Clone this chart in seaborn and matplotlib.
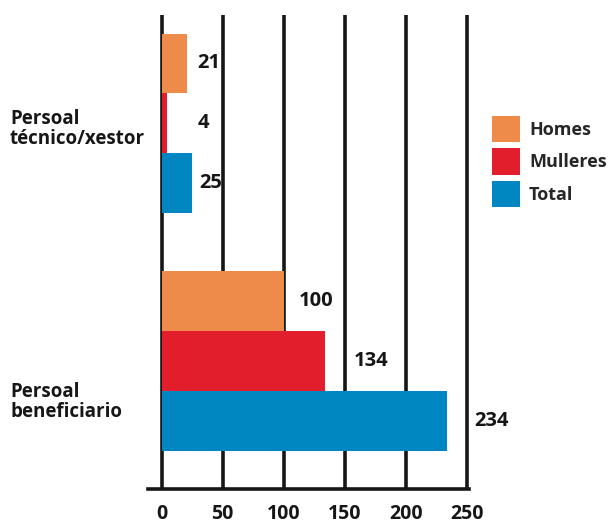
import matplotlib
matplotlib.use("Agg")
import matplotlib.pyplot as plt
import seaborn as sns
import pandas as pd

categories = ["Persoal\ntécnico/xestor", "Persoal\nbeneficiario"]
series = ["Homes", "Mulleres", "Total"]
homes = [21, 100]
mulleres = [4, 134]
total = [25, 234]
x_ticks = [0, 50, 100, 150, 200, 250]

colors = ["#EE8A4A", "#E31E2C", "#0087C1"]
ink = "#161616"

# offsets of the value labels (pixels right of each bar end), as in the original
label_pad = {"Homes": [10, 15], "Mulleres": [31, 29], "Total": [7, 27]}
# how far below the group centre each category label sits (pixels)
cat_drop = [6, 41]

rows = []
for s, vals in zip(series, [homes, mulleres, total]):
    for c, v in zip(categories, vals):
        rows.append({"cat": c, "serie": s, "valor": v})
df = pd.DataFrame(rows)

sns.set_style("white")
plt.rcParams["font.family"] = ["Open Sans", "DejaVu Sans"]
plt.rcParams["font.weight"] = "bold"

fig = plt.figure(figsize=(6.08, 5.25), dpi=100)
ax = fig.add_axes([147.7 / 608, 1 - 489 / 525, (468.5 - 147.7) / 608, (489 - 15) / 525])

sns.barplot(data=df, y="cat", x="valor", hue="serie", order=categories,
            hue_order=series, palette=colors, orient="h", width=0.756,
            saturation=1, linewidth=0, ax=ax)

ax.set_xlim(-11.5, 251.5)
ax.set_ylim(1.539, -0.456)
ax.set_xticks(x_ticks)
ax.set_xticklabels([str(t) for t in x_ticks], fontsize=14, fontweight="bold", color=ink)
ax.set_yticks([])
ax.set_xlabel("")
ax.set_ylabel("")

ax.grid(axis="x", color=ink, linewidth=2.6)
ax.grid(axis="y", visible=False)
ax.set_axisbelow(True)
for side in ["top", "right", "left"]:
    ax.spines[side].set_visible(False)
ax.spines["bottom"].set_color(ink)
ax.spines["bottom"].set_linewidth(2.6)
ax.tick_params(axis="x", direction="out", length=5, width=2.4, color=ink, pad=6)

# value labels
for cont, s in zip(ax.containers, series):
    for bar, pad in zip(cont, label_pad[s]):
        w = bar.get_width()
        yc = bar.get_y() + bar.get_height() / 2
        ax.annotate(f"{w:.0f}", xy=(w, yc), xytext=(pad * 0.72, 0),
                    textcoords="offset points", ha="left", va="center",
                    fontsize=14.5, fontweight="bold", color=ink)

# category labels, left aligned at the left edge of the figure
for i, (c, d) in enumerate(zip(categories, cat_drop)):
    ax.annotate(c, xy=(10 / 608, i), xycoords=("figure fraction", "data"),
                xytext=(0, -d * 0.72), textcoords="offset points",
                ha="left", va="center", fontsize=13.5, fontweight="bold",
                color=ink, linespacing=1.0, annotation_clip=False)

handles, labels = ax.get_legend_handles_labels()
ax.legend(handles, labels, loc="upper left",
          bbox_to_anchor=(492 / 608, 1 - 116 / 525), bbox_transform=fig.transFigure,
          frameon=False, handlelength=1.55, handleheight=1.88,
          handletextpad=0.5, labelspacing=0.33, borderpad=0, borderaxespad=0,
          prop={"weight": "bold", "size": 13})

fig.savefig("out.png", dpi=100)
